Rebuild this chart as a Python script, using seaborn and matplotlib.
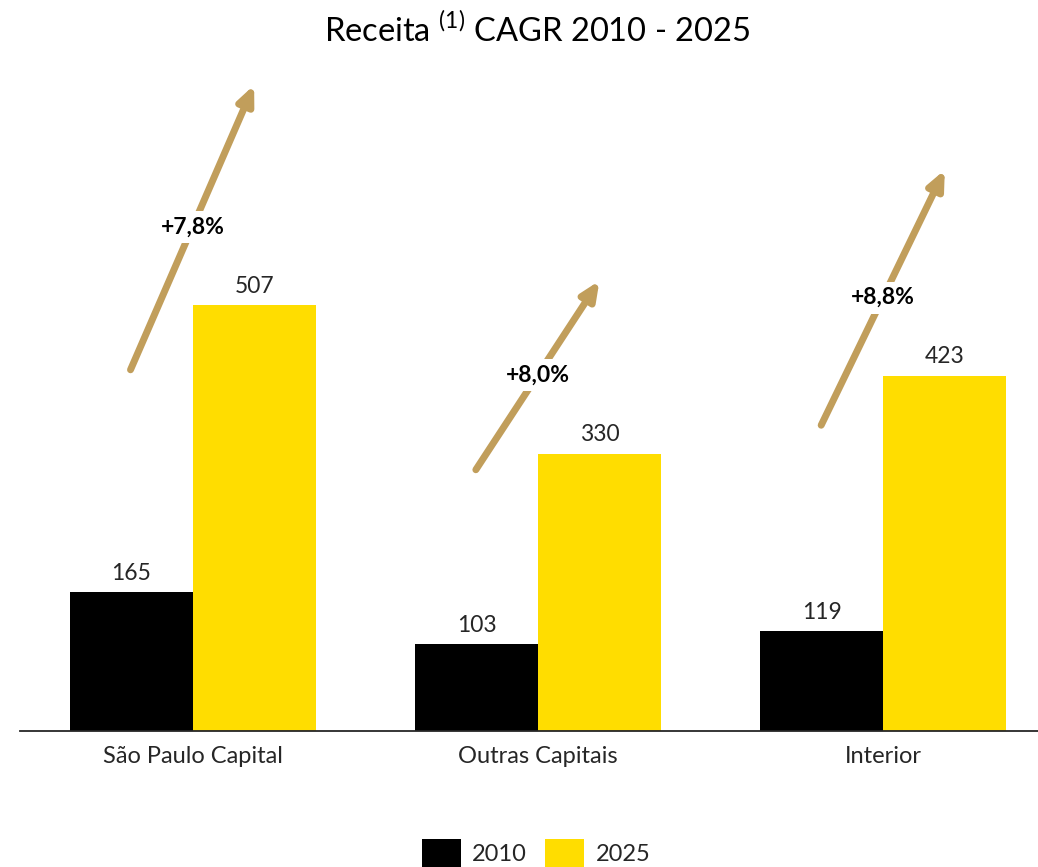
import matplotlib
matplotlib.use("Agg")
import matplotlib.pyplot as plt
import seaborn as sns
import pandas as pd

# ---- data ----
regions = ["São Paulo Capital", "Outras Capitais", "Interior"]
years = ["2010", "2025"]
values_2010 = [165, 103, 119]
values_2025 = [507, 330, 423]
cagr_labels = ["+7,8%", "+8,0%", "+8,8%"]
# arrow annotation endpoints (data units on y)
arrow_start_y = [430, 311, 364]
arrow_end_y = [769, 536, 668]

colors = ["#000000", "#FFDD00"]
arrow_color = "#C19E5B"
text_color = "#262626"

df = pd.DataFrame({
    "region": regions * 2,
    "year": [years[0]] * 3 + [years[1]] * 3,
    "value": values_2010 + values_2025,
})

sns.set_theme(style="white")
plt.rcParams["font.family"] = ["Lato", "DejaVu Sans"]
plt.rcParams["mathtext.fontset"] = "custom"
plt.rcParams["mathtext.rm"] = "Lato"

fig = plt.figure(figsize=(10.38, 8.67), dpi=100)
W, H = 1038, 867
ax = fig.add_axes([20 / W, 136 / H, 1036 / W, 672 / H])

sns.barplot(data=df, x="region", y="value", hue="year", palette=colors,
            width=0.713, saturation=1, ax=ax, linewidth=0, gap=0)

ax.set_xlim(-0.5, 2.5)
ax.set_ylim(0, 800)
ax.set_xlabel("")
ax.set_ylabel("")
ax.set_yticks([])
for s in ["top", "right", "left"]:
    ax.spines[s].set_visible(False)
ax.spines["bottom"].set_color("#262626")
ax.spines["bottom"].set_linewidth(1.3)
ax.tick_params(axis="x", length=0, pad=11, labelsize=17, labelcolor=text_color)

for cont in ax.containers:
    ax.bar_label(cont, padding=6, fontsize=16.5, color=text_color)

for i in range(len(regions)):
    x0, x1 = i - 0.18, i + 0.178
    ax.annotate("", xy=(x1, arrow_end_y[i]), xytext=(x0, arrow_start_y[i]),
                arrowprops=dict(arrowstyle="-|>,head_length=0.9,head_width=0.4",
                                lw=5, color=arrow_color, shrinkA=0, shrinkB=0),
                annotation_clip=False, zorder=3)
    ax.text((x0 + x1) / 2, (arrow_start_y[i] + arrow_end_y[i]) / 2, cagr_labels[i],
            ha="center", va="center", fontsize=16.5, fontweight="bold", color="black",
            bbox=dict(facecolor="white", edgecolor="none", pad=4), zorder=4)

fig.text(537 / W, 1 - 30 / H, r"Receita $^{\mathregular{(1)}}$ CAGR 2010 - 2025",
         ha="center", va="center", fontsize=23.5, color="black")

handles, labels = ax.get_legend_handles_labels()
ax.legend_.remove()
fig.legend(handles, labels, loc="upper center", bbox_to_anchor=(536 / W, 1 - 830 / H),
           ncol=2, frameon=False, fontsize=17, handlelength=1.65, handleheight=1.4,
           columnspacing=0.75, handletextpad=0.5, labelcolor=text_color,
           borderaxespad=0)

fig.savefig("out.png", dpi=100)
